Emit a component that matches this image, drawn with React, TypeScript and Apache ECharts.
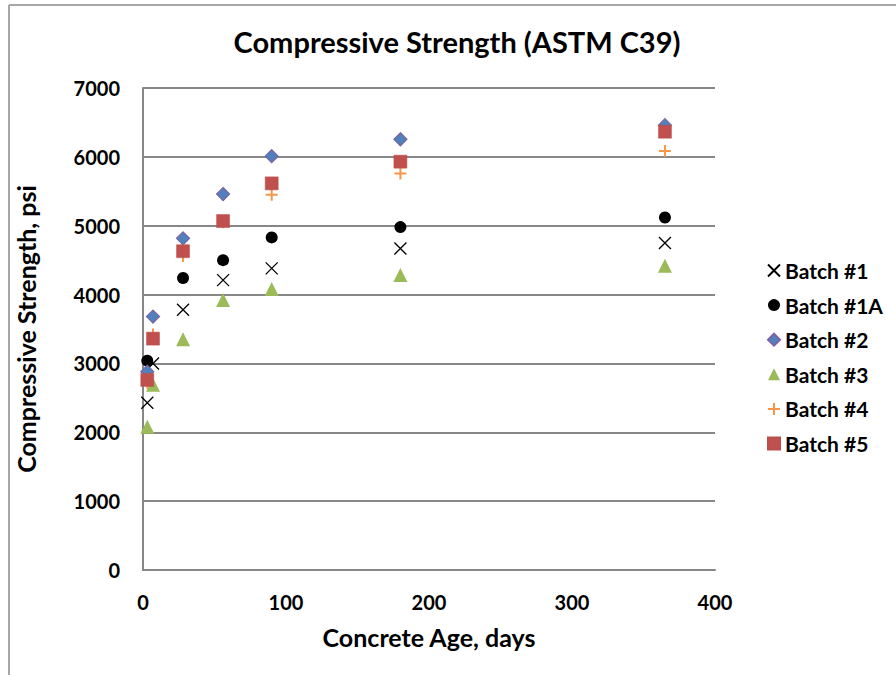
import React, { useEffect, useRef } from "react";
import * as echarts from "echarts";

const titleText = "Compressive Strength (ASTM C39)";
const xAxisName = "Concrete Age, days";
const yAxisName = "Compressive Strength, psi";

const ages = [3, 7, 28, 56, 90, 180, 365];
const batch1 = [2430, 3000, 3780, 4210, 4380, 4670, 4750];
const ages1A = [3, 28, 56, 90, 180, 365];
const batch1A = [3040, 4240, 4500, 4830, 4980, 5120];
const batch2 = [2880, 3680, 4817, 5460, 6010, 6255, 6460];
const batch3 = [2080, 2690, 3350, 3920, 4080, 4285, 4420];
const batch4 = [2720, 3420, 4560, 5050, 5450, 5760, 6085];
const batch5 = [2760, 3360, 4630, 5068, 5615, 5930, 6365];

const FONT = "Lato";

const pair = (xs: number[], ys: number[]) => xs.map((x, i) => [x, ys[i]]);

export default function App() {
  const ref = useRef<HTMLDivElement>(null);
  useEffect(() => {
    if (!ref.current) return;
    const chart = echarts.init(ref.current, undefined, { renderer: "svg" });
    const labelStyle = { fontFamily: FONT, fontWeight: "bold", fontSize: 20, color: "#000" };
    const nameStyle = { fontFamily: FONT, fontWeight: "bold", fontSize: 25, color: "#000" };
    const gridColor = "#878787";
    chart.setOption({
      animation: false,
      backgroundColor: "#fff",
      title: {
        text: titleText,
        left: 452,
        top: 22,
        textAlign: "center",
        textStyle: { fontFamily: FONT, fontWeight: "bold", fontSize: 29, color: "#000" },
      },
      graphic: [
        { type: "line", shape: { x1: 9, y1: 5, x2: 896, y2: 5 }, style: { stroke: "#a6a6a6", lineWidth: 2 } },
        { type: "line", shape: { x1: 9, y1: 5, x2: 9, y2: 675 }, style: { stroke: "#a6a6a6", lineWidth: 2 } },
      ],
      grid: { left: 143, right: 181, top: 88, bottom: 105, containLabel: false },
      xAxis: {
        type: "value",
        min: 0,
        max: 400,
        interval: 100,
        name: xAxisName,
        nameLocation: "middle",
        nameGap: 54,
        nameTextStyle: nameStyle,
        axisLine: { show: true, lineStyle: { color: gridColor, width: 2 } },
        axisTick: { show: false },
        splitLine: { show: false },
        axisLabel: { ...labelStyle, margin: 22, formatter: (v: number) => String(v) },
      },
      yAxis: {
        type: "value",
        min: 0,
        max: 7000,
        interval: 1000,
        name: yAxisName,
        nameLocation: "middle",
        nameGap: 105,
        nameTextStyle: nameStyle,
        axisLine: { show: true, lineStyle: { color: gridColor, width: 2 } },
        axisTick: { show: false },
        splitLine: { show: true, lineStyle: { color: gridColor, width: 2 } },
        axisLabel: { ...labelStyle, margin: 23, formatter: (v: number) => String(v) },
      },
      legend: {
        orient: "vertical",
        left: 762,
        top: 255,
        itemWidth: 12,
        itemHeight: 12,
        itemGap: 13.6,
        itemTextGap: 9,
        textStyle: { fontFamily: FONT, fontWeight: "bold", fontSize: 21, color: "#000", lineHeight: 20 },
        data: ["Batch #1", "Batch #1A", "Batch #2", "Batch #3", "Batch #4", "Batch #5"],
      },
      series: [
        {
          name: "Batch #1",
          type: "scatter",
          symbol: "path://M0,0L10,10M10,0L0,10",
          symbolSize: 12,
          itemStyle: { color: "rgba(0,0,0,0)", borderColor: "#000", borderWidth: 1.3, opacity: 1 },
          data: pair(ages, batch1),
        },
        {
          name: "Batch #1A",
          type: "scatter",
          symbol: "circle",
          symbolSize: 12,
          itemStyle: { color: "#000", opacity: 1 },
          data: pair(ages1A, batch1A),
        },
        {
          name: "Batch #2",
          type: "scatter",
          symbol: "diamond",
          symbolSize: 13,
          itemStyle: { color: "#4f81bd", borderColor: "#7b63a3", borderWidth: 1.2, opacity: 1 },
          data: pair(ages, batch2),
        },
        {
          name: "Batch #3",
          type: "scatter",
          symbol: "triangle",
          symbolSize: 14,
          itemStyle: { color: "#9bbb59", opacity: 1 },
          data: pair(ages, batch3),
        },
        {
          name: "Batch #4",
          type: "scatter",
          symbol: "path://M5,0L5,10M0,5L10,5",
          symbolSize: 12,
          itemStyle: { color: "rgba(0,0,0,0)", borderColor: "#f79646", borderWidth: 2, opacity: 1 },
          data: pair(ages, batch4),
        },
        {
          name: "Batch #5",
          type: "scatter",
          symbol: "rect",
          symbolSize: 13,
          itemStyle: { color: "#c0504d", borderColor: "#b9504d", borderWidth: 0.5, opacity: 1 },
          data: pair(ages, batch5),
        },
      ],
    });
    return () => chart.dispose();
  }, []);
  return (
    <div
      ref={ref}
      style={{ position: "fixed", left: 0, top: 0, width: 896, height: 675, background: "#fff" }}
    />
  );
}
